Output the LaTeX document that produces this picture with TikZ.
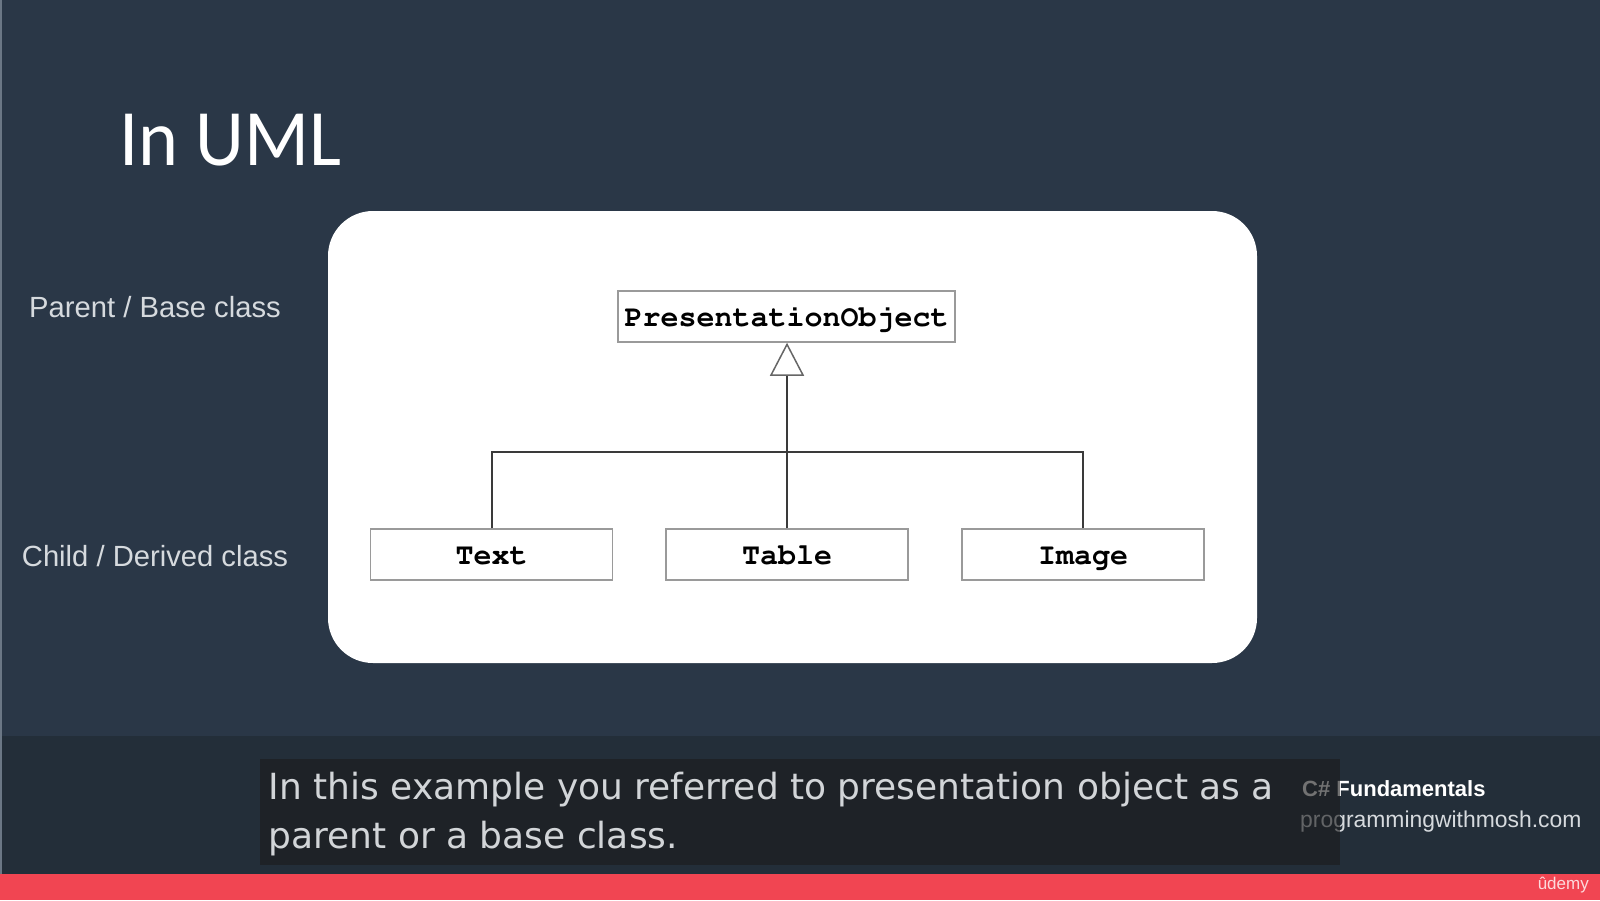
\documentclass[tikz,border=0pt]{standalone}
\usepackage{fontspec}
\setmainfont{Liberation Sans}
\newfontfamily\titlefont{Carlito}
\newfontfamily\subfont{DejaVu Sans}
\usetikzlibrary{arrows.meta}
\definecolor{bgmain}{HTML}{2A3747}
\definecolor{bgband}{HTML}{232E39}
\definecolor{subbox}{HTML}{1C1C1D}
\definecolor{redbar}{HTML}{F14552}
\definecolor{labelgray}{HTML}{D6DADE}
\definecolor{subtext}{HTML}{D2D5D8}
\definecolor{boxline}{HTML}{9A9A9A}
\definecolor{connline}{HTML}{3A3A3A}
\definecolor{edgeline}{HTML}{6B7785}
\newcommand\umlfont{\fontencoding{OT1}\fontfamily{pcr}\fontseries{b}\fontshape{n}\fontsize{30}{36}\selectfont}
\tikzset{
  panel/.style={fill=white, rounded corners=45pt, minimum width=929pt, minimum height=452pt, inner sep=0pt},
  umlbox/.style={draw=boxline, line width=1.5pt, fill=white, inner sep=0pt, text height=20pt, text depth=0pt, font=\umlfont},
  childbox/.style={umlbox, minimum width=242pt, minimum height=51pt},
  sidelabel/.style={anchor=base, inner sep=0pt, text=labelgray, font=\fontsize{29.2}{34}\selectfont},
  conn/.style={draw=connline, line width=2pt},
  subline/.style={anchor=base west, inner sep=0pt, text=subtext, font=\subfont\fontsize{36}{44}\selectfont},
}
\begin{document}
\begin{tikzpicture}[x=1pt,y=-1pt]
\useasboundingbox (0,0) rectangle (1600,900);
% backgrounds
\fill[bgmain] (0,0) rectangle (1600,736);
\fill[bgband] (0,736) rectangle (1600,874);
\fill[redbar] (0,874) rectangle (1600,900);
\fill[edgeline] (0,0) rectangle (1.5,874);
% title
\node[anchor=base west, inner sep=0pt, text=white, font=\titlefont\fontsize{80}{90}\selectfont] (title) at (119,165) {\scalebox{0.95}[1]{In UML}};
% side labels
\node[sidelabel] (parentlabel) at (155,317) {Parent / Base class};
\node[sidelabel] (childlabel) at (155,566) {Child / Derived class};
% panel
\node[panel] (panel) at (792.5,437) {};
% UML
\node[umlbox, minimum width=337pt, minimum height=51pt] (parent) at (786.5,316.5) {PresentationObject};
\node[childbox] (text) at (491.5,554.5) {Text};
\node[childbox] (table) at (787,554.5) {Table};
\node[childbox] (image) at (1083,554.5) {Image};
\coordinate (junction) at (787,452);
\coordinate (apex) at (parent.south -| table.north);
\draw[conn] (text.north) |- (junction);
\draw[conn] (image.north) |- (junction);
\draw[conn, -{Triangle[open, length=33pt, width=34pt, line width=1.5pt, fill=white, color=black!60]}] (table.north) -- (apex);
% watermark
\node[anchor=base west, inner sep=0pt, text=white, font=\bfseries\fontsize{22}{26}\selectfont] (course) at (1302,796) {C\# Fundamentals};
\node[anchor=base west, inner sep=0pt, text=labelgray, font=\fontsize{22.9}{26}\selectfont] (site) at (1300,827) {programmingwithmosh.com};
\node[anchor=base east, inner sep=0pt, text=white!80!redbar, font=\fontsize{17}{20}\selectfont] (udemy) at (1589,889) {ûdemy};
% subtitle
\fill[subbox, fill opacity=0.62] (260,759) rectangle (1340,865);
\node[subline] (sub1) at (268.5,799) {In this example you referred to presentation object as a};
\node[subline] (sub2) at (268.5,848) {parent or a base class.};
\end{tikzpicture}
\end{document}
